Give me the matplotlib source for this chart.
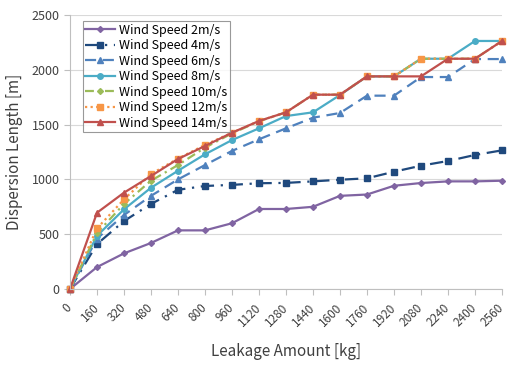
import matplotlib
matplotlib.use("Agg")
from matplotlib import pyplot as plt

plt.rcParams['font.family'] = ['Noto Sans CJK KR', 'DejaVu Sans']

# 누출량 [kg]
leak = [0, 160, 320, 480, 640, 800, 960, 1120, 1280, 1440,
        1600, 1760, 1920, 2080, 2240, 2400, 2560]

# 풍속별 확산거리 [m]
ws2 = [0, 200, 325, 420, 535, 535, 600, 730, 730, 750,
       850, 862, 942, 967, 982, 982, 988]
ws4 = [0, 410, 620, 776, 905, 940, 950, 965, 968, 982,
       997, 1010, 1070, 1125, 1168, 1223, 1265]
ws6 = [0, 460, 675, 850, 1000, 1131, 1260, 1366, 1466, 1563,
       1606, 1764, 1764, 1934, 1934, 2098, 2098]
ws8 = [0, 485, 727, 924, 1079, 1229, 1359, 1466, 1578, 1612,
       1770, 1940, 1940, 2101, 2101, 2263, 2263]
ws10 = [0, 510, 776, 988, 1131, 1290, 1420, 1530, 1612, 1773,
        1773, 1940, 1940, 2101, 2101, 2101, 2263]
ws12 = [0, 553, 818, 1049, 1190, 1315, 1426, 1533, 1612, 1773,
        1773, 1940, 1940, 2101, 2101, 2101, 2263]
ws14 = [0, 696, 879, 1031, 1186, 1305, 1426, 1533, 1612, 1773,
        1773, 1940, 1940, 1940, 2101, 2101, 2263]

labels = ['Wind Speed 2m/s', 'Wind Speed 4m/s', 'Wind Speed 6m/s',
          'Wind Speed 8m/s', 'Wind Speed 10m/s', 'Wind Speed 12m/s',
          'Wind Speed 14m/s']
series = [ws2, ws4, ws6, ws8, ws10, ws12, ws14]

colors = ['#8064A2', '#1F497D', '#4F81BD', '#4BACC6', '#9BBB59', '#F79646', '#C0504D']
styles = ['-', (0, (6, 3, 1, 3)), (0, (5, 3)), '-', (0, (4, 2, 1, 2)), (0, (1, 1.5)), '-']
markers = ['D', 's', '^', 'o', 'D', 's', '^']
msizes = [3, 4, 4, 4, 3, 4, 4]

fig = plt.figure(figsize=(5.08, 3.66), dpi=100)
ax = fig.add_axes([70 / 508, 1 - 289 / 366, 432 / 508, 274 / 366])

for y, lab, c, ls, m, ms in zip(series, labels, colors, styles, markers, msizes):
    ax.plot(leak, y, color=c, linestyle=ls, linewidth=1.6, marker=m,
            markersize=ms, label=lab, clip_on=False)

ax.set_xlim(0, 2560)
ax.set_ylim(0, 2500)
ax.set_xticks(leak)
ax.set_xticklabels([str(v) for v in leak], rotation=45, ha='right', va='center',
                   rotation_mode='anchor', fontsize=8.5, color='#404040')
ax.set_yticks(range(0, 2501, 500))
ax.tick_params(axis='y', labelsize=9, labelcolor='#404040', color='#BFBFBF', length=4)
ax.tick_params(axis='x', color='#BFBFBF', length=4, pad=8)

ax.grid(axis='y', color='#D9D9D9', linewidth=0.8)
ax.set_axisbelow(True)
for s in ['top', 'right']:
    ax.spines[s].set_visible(False)
for s in ['left', 'bottom']:
    ax.spines[s].set_color('#BFBFBF')

ax.set_xlabel('Leakage Amount [kg]', fontsize=11, color='#404040', labelpad=10)
ax.set_ylabel('Dispersion Length [m]', fontsize=11, color='#404040', labelpad=6)

leg = ax.legend(loc='upper left', bbox_to_anchor=(0.015, 1.0), fontsize=9,
                frameon=True, fancybox=False, handlelength=2.4,
                borderpad=0.2, labelspacing=0.2, handletextpad=0.3)
leg.get_frame().set_edgecolor('#808080')
leg.get_frame().set_linewidth(0.8)

fig.savefig('out.png', dpi=100)
